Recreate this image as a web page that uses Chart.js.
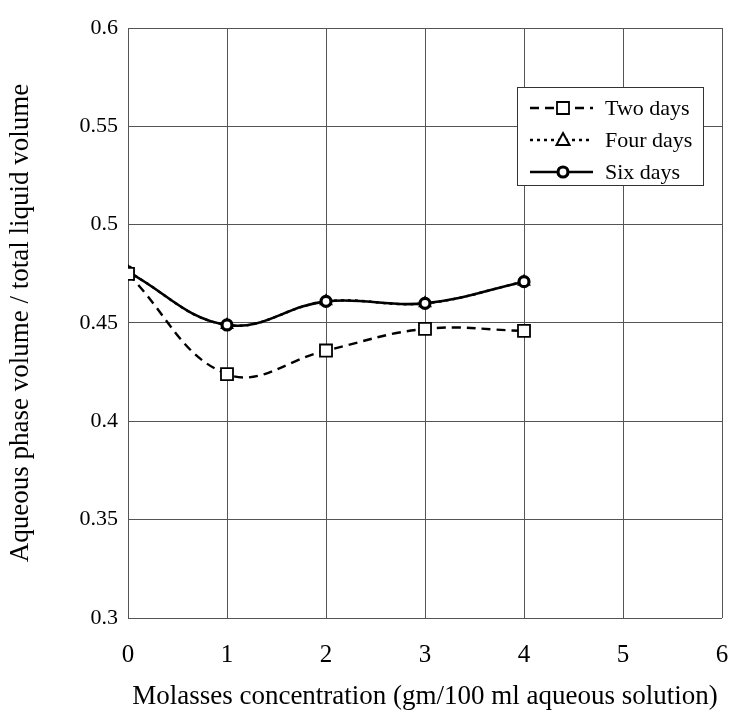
<!DOCTYPE html>
<html>
<head>
<meta charset="utf-8">
<script src="https://cdn.jsdelivr.net/npm/chart.js@4/dist/chart.umd.min.js"></script>
<style>
  html, body { margin: 0; padding: 0; background: #fff; }
  #wrap { width: 736px; height: 727px; }
</style>
</head>
<body>
<div id="wrap"><canvas id="phaseChart" width="736" height="727"></canvas></div>
<script>
// values
const concentration = [0, 1, 2, 3, 4];
const twoDays  = [0.475, 0.424, 0.436, 0.447, 0.446];
const fourDays = [0.476, 0.449, 0.461, 0.460, 0.471];
const sixDays  = [0.476, 0.449, 0.461, 0.460, 0.471];
const seriesNames = ['Two days', 'Four days', 'Six days'];
const xTicks = [0, 1, 2, 3, 4, 5, 6];
const yTicks = [0.3, 0.35, 0.4, 0.45, 0.5, 0.55, 0.6];

const serif = "'Liberation Serif', 'Times New Roman', serif";
Chart.defaults.font.family = serif;
Chart.defaults.color = '#000';

function toPoints(ys) {
    return concentration.map((x, i) => ({ x: x, y: ys[i] }));
}

// legend box drawn inside the plot, top right
const boxLegend = {
    id: 'boxLegend',
    afterDatasetsDraw(chart) {
        const c = chart.ctx;
        const a = chart.chartArea;
        const left = a.right - 205, top = a.top + 59;
        const w = 186, h = 98;
        c.save();
        c.fillStyle = '#fff';
        c.fillRect(left, top, w, h);
        c.strokeStyle = '#333';
        c.lineWidth = 1;
        c.strokeRect(left + 0.5, top + 0.5, w, h);

        chart.data.datasets.forEach((ds, i) => {
            const y = top + 21 + i * 32;
            const x0 = left + 13, x1 = left + 76, xm = left + 46;
            c.strokeStyle = '#000';
            c.lineWidth = 2.4;
            c.setLineDash(ds.borderDash || []);
            c.beginPath();
            c.moveTo(x0, y);
            c.lineTo(x1, y);
            c.stroke();
            c.setLineDash([]);
            c.fillStyle = '#fff';
            c.lineWidth = ds.pointBorderWidth;
            c.beginPath();
            if (ds.pointStyle === 'rect') {
                c.rect(xm - 6, y - 6, 12, 12);
            } else if (ds.pointStyle === 'triangle') {
                c.moveTo(xm, y - 7);
                c.lineTo(xm + 6.5, y + 5);
                c.lineTo(xm - 6.5, y + 5);
                c.closePath();
            } else {
                c.arc(xm, y, 5, 0, Math.PI * 2);
            }
            c.fill();
            c.stroke();

            c.fillStyle = '#000';
            c.font = '22px ' + serif;
            c.textAlign = 'left';
            c.textBaseline = 'middle';
            c.fillText(ds.label, left + 88, y + 1);
        });
        c.restore();
    }
};

new Chart(document.getElementById('phaseChart'), {
    type: 'line',
    data: {
        datasets: [{
            label: seriesNames[0],
            data: toPoints(twoDays),
            borderColor: '#000',
            borderWidth: 2.4,
            borderDash: [9, 6],
            pointStyle: 'rect',
            pointRadius: 8.5,
            pointBackgroundColor: '#fff',
            pointBorderColor: '#000',
            pointBorderWidth: 1.8,
            tension: 0.4,
            order: 0
        }, {
            label: seriesNames[1],
            data: toPoints(fourDays),
            borderColor: '#000',
            borderWidth: 2.4,
            borderDash: [3, 4],
            pointStyle: 'triangle',
            pointRadius: 6,
            pointBackgroundColor: '#fff',
            pointBorderColor: '#000',
            pointBorderWidth: 2,
            tension: 0.4,
            order: 2
        }, {
            label: seriesNames[2],
            data: toPoints(sixDays),
            borderColor: '#000',
            borderWidth: 2.6,
            pointStyle: 'circle',
            pointRadius: 5,
            pointBackgroundColor: '#fff',
            pointBorderColor: '#000',
            pointBorderWidth: 3.2,
            tension: 0.4,
            order: 1
        }]
    },
    options: {
        responsive: false,
        animation: false,
        layout: { padding: { top: 28, right: 14, left: 0, bottom: 0 } },
        plugins: {
            legend: { display: false },
            tooltip: { enabled: false }
        },
        scales: {
            x: {
                type: 'linear',
                min: 0,
                max: 6,
                afterFit: s => { s.height = 109; s.paddingLeft = 0; s.paddingRight = 0; },
                afterBuildTicks: s => { s.ticks = xTicks.map(v => ({ value: v })); },
                grid: { color: '#555', lineWidth: 1, drawTicks: false },
                border: { display: false },
                ticks: { font: { size: 25 }, padding: 22 },
                title: {
                    display: true,
                    text: 'Molasses concentration (gm/100 ml aqueous solution)',
                    font: { size: 27 },
                    padding: { top: 0, bottom: 14 }
                }
            },
            y: {
                min: 0.3,
                max: 0.6,
                afterFit: s => { s.width = 128; },
                afterBuildTicks: s => { s.ticks = yTicks.map(v => ({ value: v })); },
                grid: { color: '#555', lineWidth: 1, drawTicks: false },
                border: { display: false },
                ticks: { font: { size: 22 }, padding: 10, callback: v => String(v) },
                title: {
                    display: true,
                    text: 'Aqueous phase volume / total liquid volume',
                    font: { size: 27 },
                    padding: { top: 5, bottom: 0 }
                }
            }
        }
    },
    plugins: [boxLegend]
});
</script>
</body>
</html>
